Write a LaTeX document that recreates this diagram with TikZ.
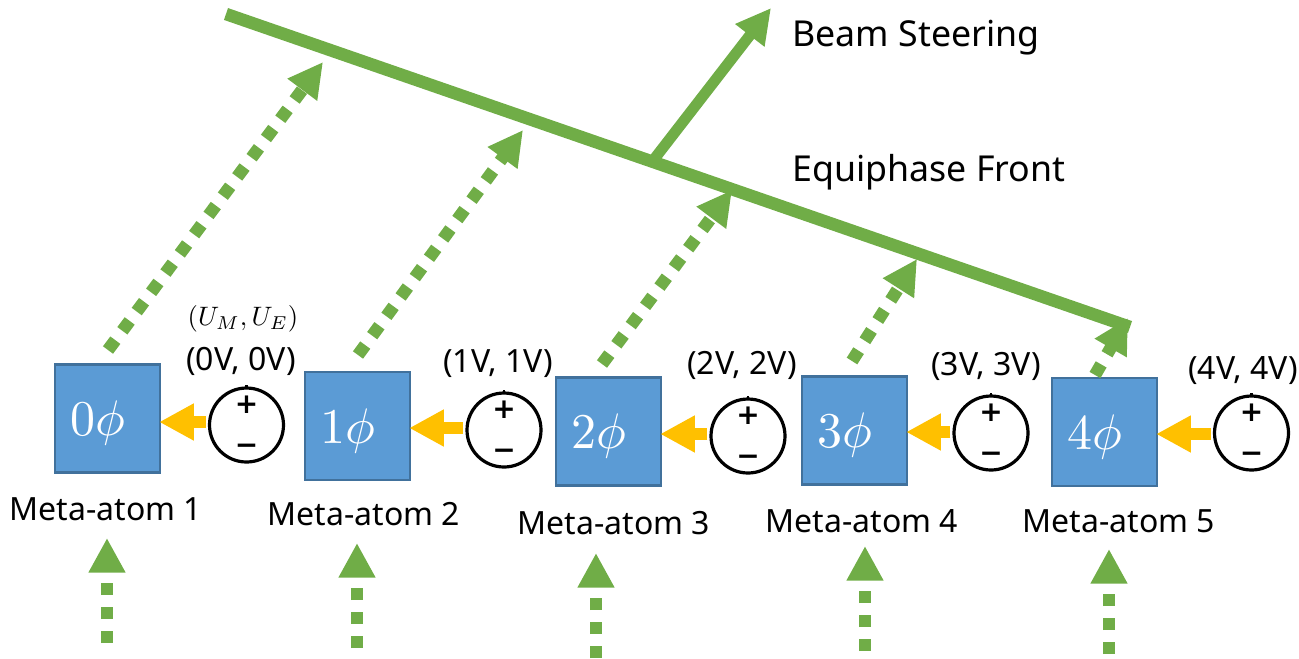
\documentclass[tikz,border=0pt]{standalone}
\usepackage{amsmath,amssymb}
\usepackage{xcolor}
\usepackage{fontspec}
\setmainfont{Noto Sans}
\newfontfamily\signfont{DejaVu Sans}
\usepackage{tikz}
\usetikzlibrary{arrows.meta,positioning}
\definecolor{beamgreen}{HTML}{70AD47}
\definecolor{atomblue}{HTML}{5B9BD5}
\definecolor{atomedge}{HTML}{41719C}
\definecolor{feedyellow}{HTML}{FFC000}

\begin{document}
\begin{tikzpicture}[
    x=0.75pt, y=-0.75pt,
    atom/.style={rectangle, draw=atomedge, fill=atomblue, line width=1.8pt, minimum width=79pt, minimum height=81pt, inner sep=0pt, outer sep=0pt},
    phase/.style={label={[text=white, xshift=-7pt, yshift=-3.5pt, scale=3.75]center:#1}},
    source/.style={circle, draw=black, fill=white, line width=2.4pt, minimum size=55.5pt, inner sep=0pt, outer sep=0pt,
        label={[font=\fontsize{21}{21}\selectfont\signfont\bfseries, yshift=15pt]center:+},
        label={[font=\fontsize{21}{21}\selectfont\signfont\bfseries, yshift=-18.5pt]center:\textminus}},
    tick/.style={draw=black, line width=2.2pt},
    caption/.style={font=\fontsize{24}{28}\selectfont, anchor=base},
    volt/.style={font=\fontsize{24}{28}\selectfont, anchor=base},
    front/.style={draw=beamgreen, line width=9.4pt},
    beam/.style={draw=beamgreen, line width=8.2pt, -{Triangle[length=26pt, width=26pt]}},
    ray/.style={draw=beamgreen, line width=9.4pt, dash pattern=on 9.2pt off 8.8pt, -{Triangle[length=26pt, width=26pt]}},
    feed/.style={draw=feedyellow, line width=8.6pt, -{Triangle[length=26pt, width=26pt]}}
]
\useasboundingbox (0,0) rectangle (1299,658);

% equiphase front and beam
\coordinate (fa) at (226,14);
\coordinate (fb) at (1130,327);
\coordinate (ba) at (655,158);
\coordinate (bb) at (771,8);
\draw[front] (fa) -- (fb);
\draw[beam] (ba) -- (bb);
\node[font=\fontsize{26.8}{30}\selectfont, anchor=base] (steer) at (916,46) {Beam Steering};
\node[font=\fontsize{26.8}{30}\selectfont, anchor=base] (equi) at (929,181) {Equiphase Front};

% meta-atoms
\node[atom, phase=$0\phi$] (b1) at (107.5,418.5) {};
\node[atom, phase=$1\phi$] (b2) at (357.5,426) {};
\node[atom, phase=$2\phi$] (b3) at (608.5,431.5) {};
\node[atom, phase=$3\phi$] (b4) at (854.5,430.5) {};
\node[atom, phase=$4\phi$] (b5) at (1104.5,432) {};
\node[caption] (m1) at (106,520) {Meta-atom 1};
\node[caption] (m2) at (364,525) {Meta-atom 2};
\node[caption] (m3) at (614,534) {Meta-atom 3};
\node[caption] (m4) at (862,532) {Meta-atom 4};
\node[caption] (m5) at (1119,532) {Meta-atom 5};

% bias sources
\node[source] (c1) at (246.5,425) {};
\node[source] (c2) at (504,430) {};
\node[source] (c3) at (748,436) {};
\node[source] (c4) at (991,433) {};
\node[source] (c5) at (1251.5,433) {};
\foreach \n in {c1,c2,c3,c4,c5} \draw[tick] (\n.north) -- ++(0,-3);
\node[scale=2.0, anchor=base] (um) at (243,325) {$(U_M,U_E)$};
\node[volt] (v1) at (241,370) {(0V, 0V)};
\node[volt] (v2) at (498,372) {(1V, 1V)};
\node[volt] (v3) at (742,374) {(2V, 2V)};
\node[volt] (v4) at (986,375) {(3V, 3V)};
\node[volt] (v5) at (1243,379) {(4V, 4V)};
\draw[feed] ([shift={(-4,-3)}]c1.west) -- ([shift={(-1,-3)}]c1.west -| b1.east);
\draw[feed] ([shift={(-4,-2)}]c2.west) -- ([shift={(-1,-2)}]c2.west -| b2.east);
\draw[feed] ([shift={(-4,-2)}]c3.west) -- ([shift={(-1,-2)}]c3.west -| b3.east);
\draw[feed] ([shift={(-4,-1)}]c4.west) -- ([shift={(-1,-1)}]c4.west -| b4.east);
\draw[feed] ([shift={(-4,1)}]c5.west) -- ([shift={(-1,1)}]c5.west -| b5.east);

% reflected rays
\coordinate (t1) at (108,350);
\coordinate (h1) at (323,62);
\coordinate (t2) at (358,355);
\coordinate (h2) at (523,130);
\coordinate (t3) at (602,364);
\coordinate (h3) at (732,190);
\coordinate (t4) at (852,361);
\coordinate (h4) at (917,259);
\coordinate (t5) at (1095,375);
\coordinate (h5) at (1128,318);
\draw[ray] (t1) -- (h1);
\draw[ray] (t2) -- (h2);
\draw[ray] (t3) -- (h3);
\draw[ray] (t4) -- (h4);
\draw[ray] (t5) -- (h5);

% incident rays
\coordinate (i1) at (107,643);
\coordinate (j1) at (107,538);
\coordinate (i2) at (357,648);
\coordinate (j2) at (357,543);
\coordinate (i3) at (596,658);
\coordinate (j3) at (596,553);
\coordinate (i4) at (865,651);
\coordinate (j4) at (865,546);
\coordinate (i5) at (1109,654);
\coordinate (j5) at (1109,549);
\draw[ray] (i1) -- (j1);
\draw[ray] (i2) -- (j2);
\draw[ray] (i3) -- (j3);
\draw[ray] (i4) -- (j4);
\draw[ray] (i5) -- (j5);
\end{tikzpicture}
\end{document}
